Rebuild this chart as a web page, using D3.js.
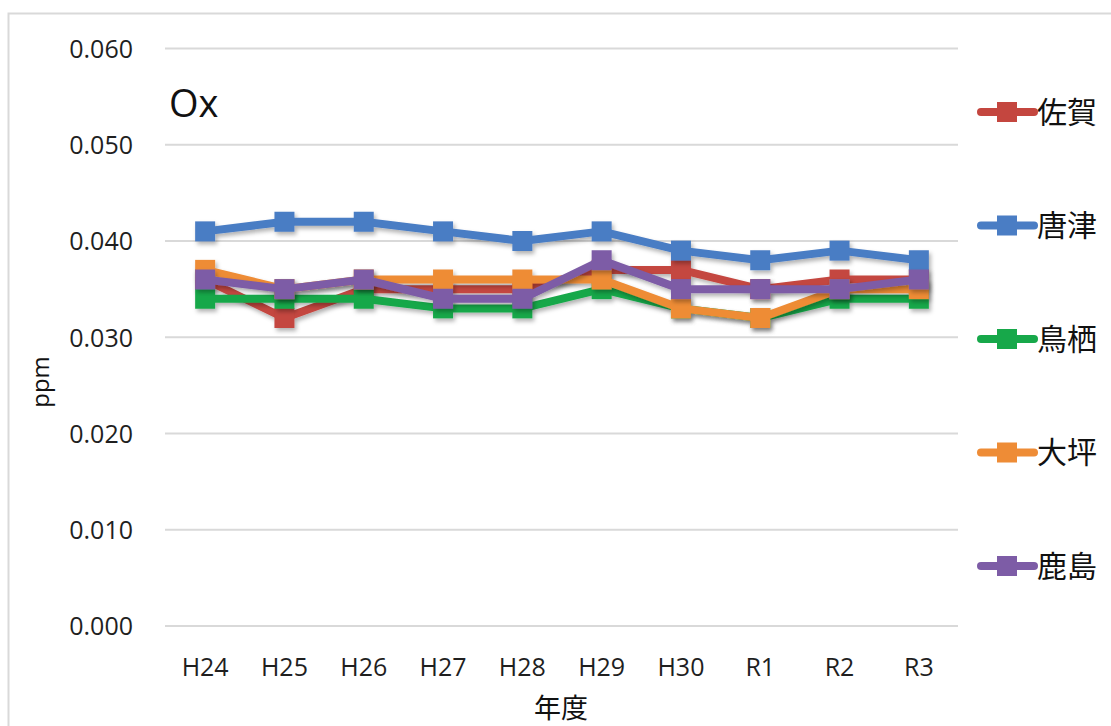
<!DOCTYPE html>
<html><head><meta charset="utf-8">
<script src="https://cdn.jsdelivr.net/npm/d3@7"></script>
<style>body{margin:0;background:#fff;} svg{display:block;}</style>
</head><body>
<svg id="c" width="1111" height="726"></svg>
<script>
const years = ["H24","H25","H26","H27","H28","H29","H30","R1","R2","R3"];
const saga    = [0.036,0.032,0.035,0.035,0.035,0.037,0.037,0.035,0.036,0.036];
const karatsu = [0.041,0.042,0.042,0.041,0.040,0.041,0.039,0.038,0.039,0.038];
const tosu    = [0.034,0.034,0.034,0.033,0.033,0.035,0.033,0.032,0.034,0.034];
const otsubo  = [0.037,0.035,0.036,0.036,0.036,0.036,0.033,0.032,0.035,0.035];
const kashima = [0.036,0.035,0.036,0.034,0.034,0.038,0.035,0.035,0.035,0.036];
const seriesNames = ["佐賀","唐津","鳥栖","大坪","鹿島"];
const seriesColors = ["#C4463F","#4A7DC4","#17A84A","#EE8C36","#7D5CA6"];
const yTicks = [0,0.01,0.02,0.03,0.04,0.05,0.06];

const series = [saga,karatsu,tosu,otsubo,kashima].map((v,i)=>({name:seriesNames[i],color:seriesColors[i],values:v}));

const svg = d3.select("#c");
const defs = svg.append("defs");
const f = defs.append("filter").attr("id","sh").attr("x","-10%").attr("y","-10%").attr("width","130%").attr("height","140%");
f.append("feDropShadow").attr("dx",2).attr("dy",3).attr("stdDeviation",2).attr("flood-color","#000").attr("flood-opacity",0.3);

// outer border
svg.append("rect").attr("x",8.5).attr("y",13.5).attr("width",1120).attr("height",730)
  .attr("fill","none").attr("stroke","#d9d9d9").attr("stroke-width",2);

const x = d3.scaleBand().domain(years).range([165.5,958.5]);
const y = d3.scaleLinear().domain([0,0.06]).range([626,48.5]);

// gridlines
svg.append("g").selectAll("line").data(yTicks).join("line")
  .attr("x1",165).attr("x2",958).attr("y1",d=>y(d)).attr("y2",d=>y(d))
  .attr("stroke","#d9d9d9").attr("stroke-width",2);

// y axis labels
const yAxis = d3.axisLeft(y).tickValues(yTicks).tickFormat(d3.format(".3f")).tickSize(0).tickPadding(0);
const gy = svg.append("g").attr("transform","translate(133,0)").call(yAxis);
gy.select(".domain").remove();
gy.selectAll("text").attr("font-family","Open Sans").attr("font-size",25).attr("fill","#1f1f1f").attr("dy","0.35em");

// x axis labels
const xAxis = d3.axisBottom(x).tickSize(0).tickPadding(0);
const gx = svg.append("g").attr("transform","translate(0,676)").call(xAxis);
gx.select(".domain").remove();
gx.selectAll("text").attr("font-family","Open Sans").attr("font-size",25).attr("fill","#1f1f1f").attr("dy","0");

// titles
svg.append("text").attr("x",169).attr("y",117).text("Ox")
  .attr("font-family","Open Sans").attr("font-size",38).attr("fill","#111");
svg.append("text").attr("transform","translate(49,382) rotate(-90)").attr("text-anchor","middle")
  .text("ppm").attr("font-family","Open Sans").attr("font-size",24).attr("fill","#111");
svg.append("text").attr("x",561).attr("y",718).attr("text-anchor","middle").text("年度")
  .attr("font-family","Noto Sans CJK JP").attr("font-size",27).attr("fill","#111");

// lines
const line = d3.line().x((d,i)=>x(years[i])+x.bandwidth()/2).y(d=>y(d));
const ms = 20;
series.forEach(s=>{
  const g = svg.append("g").attr("filter","url(#sh)");
  g.append("path").attr("d",line(s.values)).attr("fill","none").attr("stroke",s.color)
    .attr("stroke-width",8).attr("stroke-linejoin","round");
  g.selectAll("rect").data(s.values).join("rect")
    .attr("x",(d,i)=>x(years[i])+x.bandwidth()/2-ms/2).attr("y",d=>y(d)-ms/2)
    .attr("width",ms).attr("height",ms).attr("fill",s.color);
});

// legend
const leg = svg.append("g");
series.forEach((s,i)=>{
  const cy = 112 + i*113.5;
  const g = leg.append("g").attr("transform",`translate(0,${cy})`);
  g.append("line").attr("x1",981).attr("x2",1034).attr("y1",0).attr("y2",0)
    .attr("stroke",s.color).attr("stroke-width",8).attr("stroke-linecap","round");
  g.append("rect").attr("x",997).attr("y",-10).attr("width",20).attr("height",20).attr("fill",s.color);
  g.append("text").attr("x",1037).attr("y",0).attr("dy","0.36em").text(s.name)
    .attr("font-family","Noto Sans CJK JP").attr("font-size",30).attr("fill","#111");
});
</script>
</body></html>
